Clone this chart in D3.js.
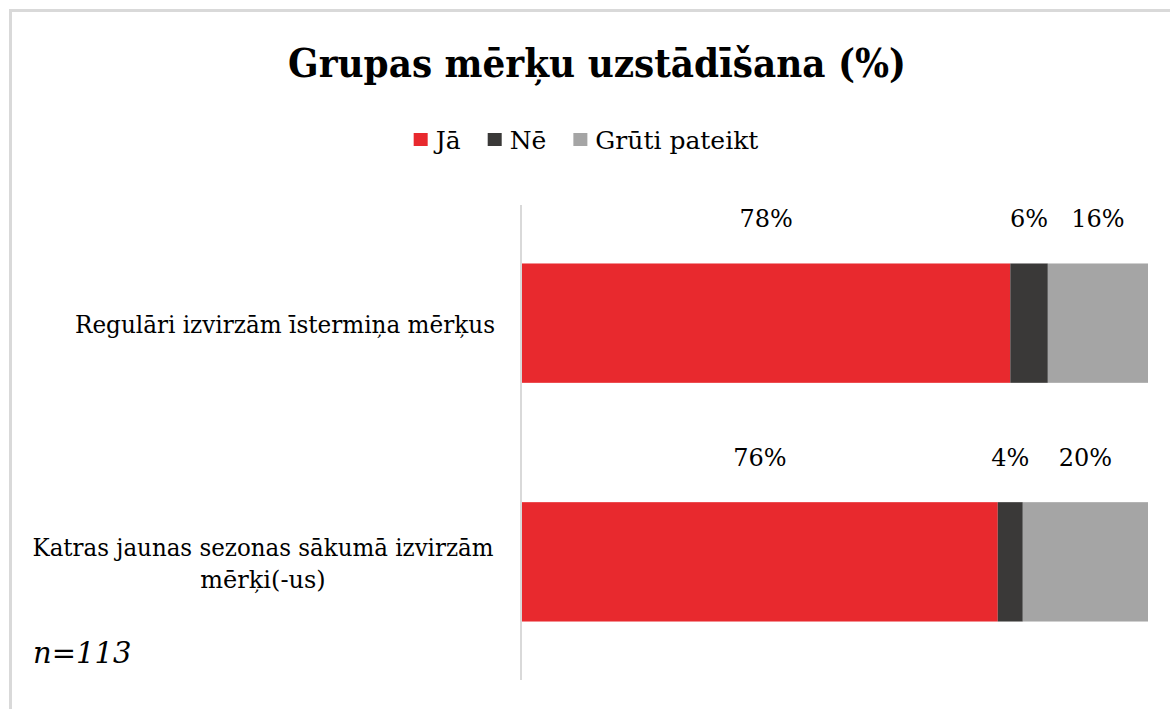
<!DOCTYPE html>
<html lang="lv">
<head>
    <meta charset="UTF-8">
    <title>Grupas mērķu uzstādīšana</title>
    <style>
        body { margin: 0; background: #fff; }
    </style>
</head>
<body>
    <svg id="chart" width="1170" height="709"></svg>

    <script src="https://d3js.org/d3.v7.min.js"></script>
    <script>
        // --- Data ---
        const categories = [
            "Regulāri izvirzām īstermiņa mērķus",
            "Katras jaunas sezonas sākumā izvirzām\nmērķi(-us)"
        ];
        const seriesNames = ["Jā", "Nē", "Grūti pateikt"];
        const seriesColors = ["#e8292e", "#3a3938", "#a5a5a5"];
        const valuesJa = [78, 76];
        const valuesNe = [6, 4];
        const valuesGruti = [16, 20];
        const titleText = "Grupas mērķu uzstādīšana (%)";
        const noteText = "n=113";

        // Liberation Serif is not picked up here, DejaVu Serif is
        const FONT = "DejaVu Serif, Liberation Serif, serif";

        const rows = categories.map((c, i) => ({
            cat: c, "Jā": valuesJa[i], "Nē": valuesNe[i], "Grūti pateikt": valuesGruti[i]
        }));
        const stacked = d3.stack().keys(seriesNames)(rows);

        const svg = d3.select("#chart").style("font-family", FONT);

        // chart frame (only top and left edges are visible)
        svg.append("path")
            .attr("d", "M10.5,709 V10.5 H1170")
            .attr("fill", "none")
            .attr("stroke", "#d9d9d9")
            .attr("stroke-width", 3);

        // scales
        const x = d3.scaleLinear().domain([0, 100]).range([522, 1148]);
        const y = d3.scaleBand().domain(categories).range([205, 680])
            .paddingInner(0.5).paddingOuter(0.245);
        const color = d3.scaleOrdinal().domain(seriesNames).range(seriesColors);

        // title - squeeze DejaVu to the narrower Times-like width
        svg.append("text")
            .attr("x", 597).attr("y", 77)
            .attr("text-anchor", "middle")
            .attr("font-size", 40)
            .attr("font-weight", "bold")
            .attr("fill", "#000")
            .attr("textLength", 618)
            .attr("lengthAdjust", "spacingAndGlyphs")
            .text(titleText);

        // legend
        const legend = svg.append("g").attr("transform", "translate(0,149)");
        const items = legend.selectAll("g").data(seriesNames).join("g");
        items.append("rect")
            .attr("width", 14).attr("height", 13)
            .attr("y", -16)
            .attr("fill", d => color(d));
        items.append("text")
            .attr("x", 22).attr("y", 0)
            .attr("font-size", 25)
            .attr("fill", "#000")
            .text(d => d);
        const gap = 27;
        const widths = [];
        items.each(function () { widths.push(this.getBBox().width); });
        const total = d3.sum(widths) + gap * (widths.length - 1);
        let lx = 586 - total / 2;
        items.attr("transform", (d, i) => {
            const t = `translate(${lx},0)`;
            lx += widths[i] + gap;
            return t;
        });

        // axis line
        svg.append("line")
            .attr("x1", 521).attr("x2", 521)
            .attr("y1", 205).attr("y2", 680)
            .attr("stroke", "#d9d9d9")
            .attr("stroke-width", 2);

        // bars
        const layers = svg.append("g").selectAll("g").data(stacked).join("g")
            .attr("fill", d => color(d.key));
        layers.selectAll("rect").data(d => d).join("rect")
            .attr("x", d => x(d[0]))
            .attr("width", d => x(d[1]) - x(d[0]))
            .attr("y", d => y(d.data.cat))
            .attr("height", y.bandwidth());

        // value labels above segments
        layers.selectAll("text").data(d => d).join("text")
            .attr("x", d => (x(d[0]) + x(d[1])) / 2)
            .attr("y", d => y(d.data.cat) - 36)
            .attr("text-anchor", "middle")
            .attr("font-size", 24)
            .attr("fill", "#000")
            .text(d => (d[1] - d[0]) + "%");

        // category labels
        svg.append("g").selectAll("text").data(categories).join("text")
            .attr("text-anchor", "middle")
            .attr("font-size", 24)
            .attr("fill", "#000")
            .each(function (d) {
                const lines = d.split("\n");
                const cx = lines.length > 1 ? 263 : 285;
                const cy = y(d) + y.bandwidth() / 2 - (lines.length - 1) * 32 / 2 + 10;
                d3.select(this).selectAll("tspan").data(lines).join("tspan")
                    .attr("x", cx)
                    .attr("y", (l, i) => cy + i * 32)
                    .attr("textLength", (l, i) => i === 0 ? (lines.length > 1 ? 461 : 420) : null)
                    .attr("lengthAdjust", "spacingAndGlyphs")
                    .text(l => l);
            });

        // sample note
        svg.append("text")
            .attr("x", 33).attr("y", 663)
            .attr("font-size", 29)
            .attr("font-style", "italic")
            .attr("fill", "#000")
            .text(noteText);
    </script>
</body>
</html>
